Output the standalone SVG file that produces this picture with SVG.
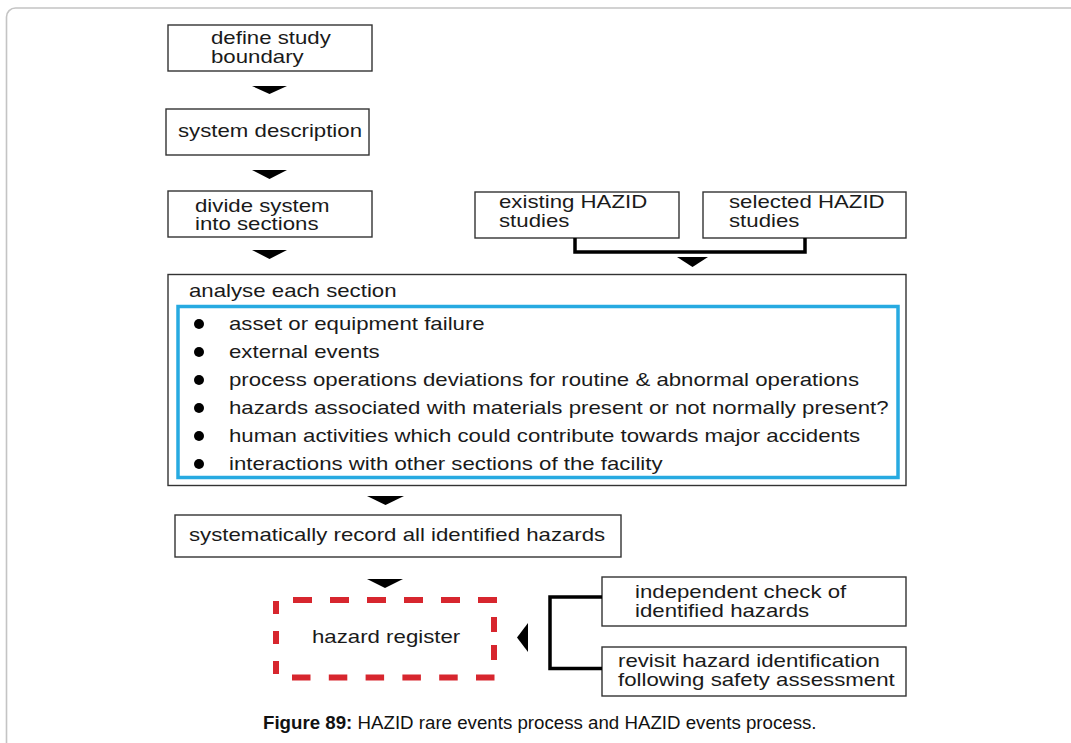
<svg xmlns="http://www.w3.org/2000/svg" width="1071" height="743" viewBox="0 0 1071 743">
  <style>
    .box { fill: #ffffff; stroke: #333333; stroke-width: 1.4; }
    .t { font-family: "Liberation Sans", Arial, sans-serif; font-size: 18px; fill: #1a1a1a; }
    .cap { font-family: "Liberation Sans", Arial, sans-serif; font-size: 18.7px; fill: #111111; }
    .head { fill: #000000; }
    .bracket { fill: none; stroke: #000000; stroke-width: 3.5; stroke-linejoin: miter; }
    .dash { fill: none; stroke: #d7262e; stroke-width: 6; }
    .bullet { fill: #000000; }
  </style>

  <rect width="1071" height="743" fill="#ffffff"/>
  <!-- page frame -->
  <rect x="6.5" y="8" width="1075" height="750" rx="9" fill="none" stroke="#c4c4c4" stroke-width="1.6"/>

  <g id="define-boundary">
    <rect class="box" x="168" y="25" width="204" height="46"/>
    <text class="t" transform="translate(211 43.5) scale(1.235 1)"><tspan x="0" y="0">define study</tspan><tspan x="0" y="20">boundary</tspan></text>
  </g>

  <g id="system-description">
    <rect class="box" x="166" y="109" width="203" height="46"/>
    <text class="t" transform="translate(178 137) scale(1.235 1)">system description</text>
  </g>

  <g id="divide-system">
    <rect class="box" x="168" y="191" width="204" height="46"/>
    <text class="t" transform="translate(195 211.5) scale(1.235 1)"><tspan x="0" y="0">divide system</tspan><tspan x="0" y="19">into sections</tspan></text>
  </g>

  <g id="existing-hazid">
    <rect class="box" x="475" y="192" width="204" height="46"/>
    <text class="t" transform="translate(499 208) scale(1.235 1)"><tspan x="0" y="0">existing HAZID</tspan><tspan x="0" y="19">studies</tspan></text>
  </g>

  <g id="selected-hazid">
    <rect class="box" x="703" y="192" width="203" height="46"/>
    <text class="t" transform="translate(729 208) scale(1.235 1)"><tspan x="0" y="0">selected HAZID</tspan><tspan x="0" y="19">studies</tspan></text>
  </g>

  <g id="analyse-sections">
    <rect class="box" x="168" y="274.5" width="738" height="211"/>
    <text class="t" transform="translate(189 296.5) scale(1.235 1)">analyse each section</text>
    <rect x="178" y="306.5" width="720" height="171" fill="none" stroke="#27aae1" stroke-width="3.5"/>
    <g>
      <circle class="bullet" cx="199" cy="324" r="5"/>
      <circle class="bullet" cx="199" cy="352" r="5"/>
      <circle class="bullet" cx="199" cy="380" r="5"/>
      <circle class="bullet" cx="199" cy="408" r="5"/>
      <circle class="bullet" cx="199" cy="436" r="5"/>
      <circle class="bullet" cx="199" cy="464" r="5"/>
    </g>
    <text class="t" transform="translate(229 330) scale(1.235 1)">asset or equipment failure</text>
    <text class="t" transform="translate(229 358) scale(1.235 1)">external events</text>
    <text class="t" transform="translate(229 386) scale(1.235 1)">process operations deviations for routine &amp; abnormal operations</text>
    <text class="t" transform="translate(229 414) scale(1.235 1)">hazards associated with materials present or not normally present?</text>
    <text class="t" transform="translate(229 442) scale(1.235 1)">human activities which could contribute towards major accidents</text>
    <text class="t" transform="translate(229 470) scale(1.235 1)">interactions with other sections of the facility</text>
  </g>

  <g id="record-hazards">
    <rect class="box" x="175" y="515" width="446" height="42"/>
    <text class="t" transform="translate(189 541) scale(1.235 1)">systematically record all identified hazards</text>
  </g>

  <g id="hazard-register">
    <line class="dash" x1="293" y1="600" x2="497" y2="600" stroke-dasharray="19 18"/>
    <line class="dash" x1="292" y1="677.5" x2="498" y2="677.5" stroke-dasharray="18.5 18.3"/>
    <line class="dash" x1="276" y1="601" x2="276" y2="674" stroke-dasharray="13 17"/>
    <line class="dash" x1="494" y1="617" x2="494" y2="660" stroke-dasharray="15 13"/>
    <text class="t" transform="translate(312 643) scale(1.235 1)">hazard register</text>
  </g>

  <g id="independent-check">
    <rect class="box" x="602" y="577" width="304" height="49"/>
    <text class="t" transform="translate(635 598) scale(1.235 1)"><tspan x="0" y="0">independent check of</tspan><tspan x="0" y="19">identified hazards</tspan></text>
  </g>

  <g id="revisit-identification">
    <rect class="box" x="602" y="647" width="304" height="49"/>
    <text class="t" transform="translate(618 667) scale(1.235 1)"><tspan x="0" y="0">revisit hazard identification</tspan><tspan x="0" y="19">following safety assessment</tspan></text>
  </g>

  <g id="connectors">
    <polygon class="head" points="252,86 287,86 269.5,94"/>
    <polygon class="head" points="252,170 287,170 269.5,179"/>
    <polygon class="head" points="252,250 287,250 269.5,259"/>
    <path class="bracket" d="M575,238 V252 H805 V238"/>
    <polygon class="head" points="677,257 708,257 692.5,267"/>
    <polygon class="head" points="367,496 404,496 385.5,505"/>
    <polygon class="head" points="367,579 403,579 385,588"/>
    <path class="bracket" d="M602,597 H550 V668.5 H602"/>
    <polygon class="head" points="528,623 528,652 517,637.5"/>
  </g>

  <text class="cap" x="263" y="728.5"><tspan font-weight="bold">Figure 89:</tspan> HAZID rare events process and HAZID events process.</text>
</svg>
